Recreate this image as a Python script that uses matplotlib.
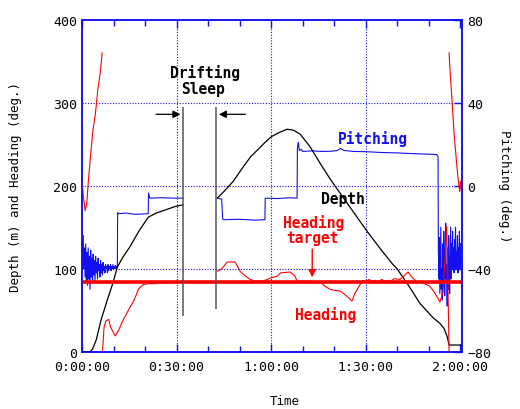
import numpy as np
import matplotlib.pyplot as plt

nan = np.nan

# time axis in minutes from the start of the dive
xtick_min = [0, 30, 60, 90, 120]
xtick_labels = ["0:00:00", "0:30:00", "1:00:00", "1:30:00", "2:00:00"]

# depth (m), black
depth_t = [0, 2.5, 3.3, 4.5, 6.1, 8.0, 9.9, 11.2, 13.0, 15.3, 18.0, 21.0, 23.5, 25.8, 29.6, 32.1,
           nan,
           42.9, 45.0, 47.9, 51.0, 53.5, 55.9, 58.0, 60.0, 62.5, 65.0, 67.0, 69.2, 72.3, 75.5, 78.7, 80.9,
           85.0, 90.4, 95.0, 98.6, 99.9, 103.5, 107.2, 111.3, 113.5, 114.8, 115.8, 116.4, 117.5, 120.2]
depth_m = [0, 0, 3, 14, 39, 62, 84, 102, 114, 127, 145, 162, 167, 170, 175, 177,
           nan,
           185, 193, 205, 222, 235, 244, 252, 259, 264, 268, 267, 262, 247, 227, 208, 196,
           174, 145, 122, 105, 100, 80, 58, 41, 34, 28, 18, 8, 8, 8]

# heading (deg), red, wraps at 0/360
heading_t = [0, 0.5, 1.0, 1.5, 2.0, 2.8, 3.5, 4.2, 5.0, 5.8, 6.4, nan,
             6.5, 7.0, 7.6, 8.5, 9.0, 10.5, 11.5, 13.0, 15.0, 16.5, 18.0, 19.5, 21.0, 23.0, 25.0, 27.0, 29.0, 31.0, 32.1, nan,
             42.9, 44.0, 45.0, 46.0, 48.6, 50.1, 51.5, 53.3, 55.0, 57.0, 58.0, 60.0, 61.9, 63.0, 66.0, 67.5, 68.2,
             70.0, 72.0, 74.0, 75.5, 77.0, 78.7, 80.0, 81.8, 83.0, 84.5, 85.6, 86.5, 88.2, 89.0, 90.0, 91.0,
             92.0, 93.0, 94.0, 95.0, 96.0, 97.0, 98.0, 99.0, 100.8, 102.0, 103.4, 104.5, 106.2, 108.0, 110.3,
             112.0, 113.5, 114.5, 115.2, 115.6, 115.9, 116.3, 116.4, nan,
             116.4, 116.6, 117.0, 117.5, 118.0, 118.5, 119.0, 119.5, 119.8, 120.0, 120.3]
heading_deg = [205, 185, 170, 178, 205, 240, 268, 285, 315, 337, 360, nan,
               0, 30, 37, 39, 30, 19, 25, 38, 52, 62, 76, 81, 82, 82, 83, 83, 84, 84, 86, nan,
               97, 99, 103, 108, 108, 97, 92, 87, 85, 85, 86, 89, 91, 95, 96, 91, 85,
               85, 85, 84, 84, 79, 75, 74, 73, 70, 65, 61, 70, 81, 86, 84, 87,
               85, 86, 84, 87, 85, 86, 85, 88, 87, 91, 96, 90, 84, 83, 79,
               70, 60, 72, 120, 151, 110, 20, 0, nan,
               360, 345, 322, 292, 262, 240, 218, 200, 193, 205, 196]
heading_target = 84.3

# pitching (deg), blue, right axis
pitch_start = [-26, -38, -24, -40, -30, -44, -28, -46, -32, -48, -30, -45, -34, -50, -31, -44,
               -35, -47, -33, -43, -36, -46, -34, -42, -37, -45, -35, -41, -38, -44, -36, -42,
               -38, -43, -37, -41, -39, -42, -38, -40, -39, -42, -38, -41, -39, -40, -38, -41,
               -39, -40, -38, -40, -39, -40, -38.5, -40, -39, -39.5]
pitch_mid_t = [11.2, 11.3, 11.6, 14, 17, 21.0, 21.1, 21.5, 25, 29, 32.1, nan,
               42.9, 44.3, 44.6, 45, 50, 55, 58.0, 58.1, 62, 66, 68.2, 68.3, 68.6, 68.9, 69.5,
               70, 73, 76, 79, 81, 82, 83, 86, 90, 95, 100, 104, 108, 112.5, 112.9]
pitch_mid = [-39, -13, -13.5, -13.2, -13.8, -13.5, -3.5, -6, -5.8, -6, -6, nan,
             -6, -6.5, -16, -16.4, -16.2, -16.6, -16.4, -6, -6.2, -5.8, -6, 18, 21, 17, 17.5,
             16.5, 16.8, 16.5, 16.6, 17, 18, 17, 16.5, 16.4, 16, 15.8, 15.5, 15.3, 15, 14]
pitch_end = [-30, -45, -25, -52, -35, -20, -50, -40, -55, -28, -48, -22, -42, -53, -32, -18,
             -45, -38, -58, -30, -50, -24, -40, -52, -35, -20, -45, -28, -40, -22, -38, -30,
             -42, -26, -36, -20, -40, -32, -38, -24, -42, -30, -36, -22, -40, -28, -38, -34]

pitch_t = np.concatenate([np.linspace(0, 11.2, len(pitch_start)), pitch_mid_t,
                          np.linspace(113.0, 120.3, len(pitch_end))])
pitch_deg = np.concatenate([pitch_start, pitch_mid, pitch_end])

drift_start, drift_end = 32.1, 42.5

BLUE = "#1010f0"
mono = "DejaVu Sans Mono"

fig = plt.figure(figsize=(5.2, 4.1), dpi=100)
ax = fig.add_axes([0.1577, 0.1398, 0.7302, 0.8097])
ax2 = ax.twinx()
ax.set_zorder(ax2.get_zorder() + 1)
ax.patch.set_visible(False)

ax2.plot(pitch_t, pitch_deg, color=BLUE, lw=0.8)
ax.plot(depth_t, depth_m, color="black", lw=0.9)
ax.plot(heading_t, heading_deg, color="red", lw=0.8)
ax.axhline(heading_target, color="red", lw=2.6)

# drifting sleep markers
ax.vlines(drift_start, 43, 295, color="#555555", lw=1.1)
ax.vlines(drift_end, 51, 295, color="#555555", lw=1.1)
ax.annotate("", xy=(drift_start, 286), xytext=(22.6, 286),
            arrowprops=dict(arrowstyle="-|>", color="black", lw=0.9, mutation_scale=11))
ax.annotate("", xy=(drift_end, 286), xytext=(52.7, 286),
            arrowprops=dict(arrowstyle="-|>", color="black", lw=0.9, mutation_scale=11))

bold = dict(family=mono, fontsize=10.5, fontweight="bold", ha="center", va="center")
ax.text(39.0, 337, "Drifting", color="black", **bold)
ax.text(38.5, 317, "Sleep", color="black", **bold)
ax.text(92.3, 257, "Pitching", color=BLUE, **bold)
ax.text(82.8, 184, "Depth", color="black", **bold)
ax.text(73.3, 156, "Heading", color="red", **bold)
ax.text(73.0, 137, "target", color="red", **bold)
ax.text(77.1, 45, "Heading", color="red", **bold)
ax.annotate("", xy=(73.0, heading_target + 2), xytext=(73.0, 127),
            arrowprops=dict(arrowstyle="-|>", color="red", lw=1.0, mutation_scale=11))

ax.set_xlim(0, 120.4)
ax.set_ylim(0, 400)
ax2.set_ylim(-80, 80)
ax.set_xticks(xtick_min)
ax.set_xticklabels(xtick_labels)
ax.set_xticks(np.arange(0, 121, 10), minor=True)
ax.set_yticks([0, 100, 200, 300, 400])
ax2.set_yticks([-80, -40, 0, 40, 80])

for a in (ax, ax2):
    for s in a.spines.values():
        s.set_color(BLUE)
        s.set_linewidth(1.1)
    a.tick_params(which="both", direction="in", color=BLUE, labelsize=9.5, top=True)
    a.tick_params(which="major", length=6, width=1)
    a.tick_params(which="minor", length=4, width=1)
    for lab in a.get_xticklabels() + a.get_yticklabels():
        lab.set_family(mono)
ax.tick_params(axis="x", pad=6)
ax.tick_params(axis="y", which="both", left=False)
ax2.tick_params(axis="y", pad=4)

for g in [30, 60, 90]:
    ax.axvline(g, color=BLUE, lw=0.8, ls=(0, (1, 1.5)), zorder=0)
for g in [100, 200, 300]:
    ax.axhline(g, color=BLUE, lw=0.8, ls=(0, (1, 1.5)), zorder=0)

ax.set_ylabel("Depth (m) and Heading (deg.)", family=mono, fontsize=9)
ax.yaxis.set_label_coords(-0.158, 0.5)
ax2.set_ylabel("Pitching (deg.)", family=mono, fontsize=9, rotation=270, va="center")
ax2.yaxis.set_label_coords(1.113, 0.5)
ax.set_xlabel("Time", family=mono, fontsize=9, va="center")
ax.xaxis.set_label_coords(0.534, -0.148)

fig.savefig("out.png", dpi=100)
